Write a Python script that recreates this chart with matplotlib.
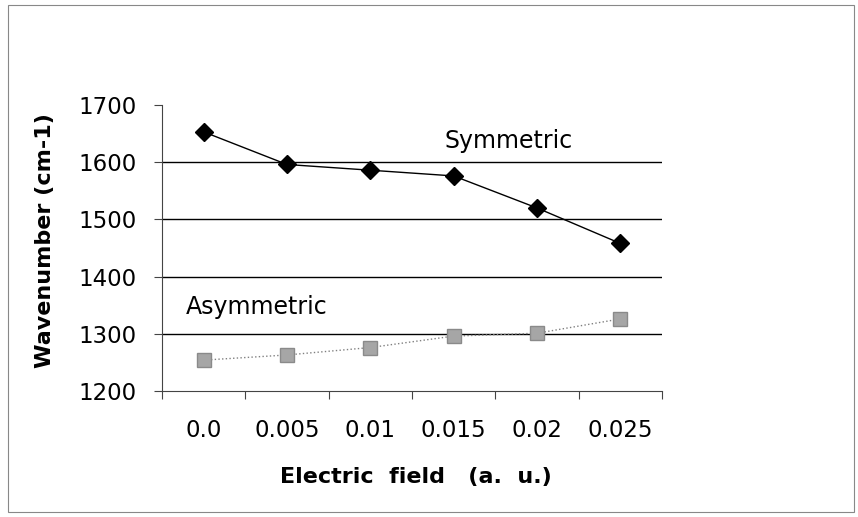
import matplotlib
matplotlib.use("Agg")
import matplotlib.pyplot as plt
from matplotlib.patches import Rectangle
import numpy as np

plt.rcParams['font.family'] = ['DejaVu Sans']

categories = ["0.0", "0.005", "0.01", "0.015", "0.02", "0.025"]
symmetric = [1653, 1596, 1586, 1576, 1520, 1458]
asymmetric = [1254, 1263, 1276, 1296, 1301, 1326]
yticks = [1200, 1300, 1400, 1500, 1600, 1700]

fig = plt.figure(figsize=(8.58, 5.17), dpi=100)
fig.patches.append(Rectangle((8/858, 1-512/517), 846/858, 507/517, transform=fig.transFigure,
                             fill=False, edgecolor='#888888', linewidth=0.8))
ax = fig.add_axes([162/858, 1-391/517, 500/858, 286/517])

x = np.arange(len(categories))
ax.plot(x, symmetric, color='black', linewidth=1.0, marker='D', markersize=9.5,
        markerfacecolor='black', markeredgecolor='black', zorder=3)
ax.plot(x, asymmetric, color='#808080', linewidth=1.0, linestyle=':', marker='s', markersize=10.5,
        markerfacecolor='#a6a6a6', markeredgecolor='#8a8a8a', zorder=3)

ax.set_xlim(-0.5, len(categories) - 0.5)
ax.set_ylim(1200, 1700)
ax.set_yticks(yticks)
ax.set_yticklabels([str(v) for v in yticks], fontsize=16.5)
ax.set_xticks(x)
ax.set_xticklabels(categories, fontsize=16.5)
ax.tick_params(axis='x', length=0, pad=20)
ax.set_xticks(np.arange(-0.5, len(categories)), minor=True)
ax.tick_params(axis='x', which='minor', length=6, direction='out', width=0.8, color='#444444')
ax.tick_params(axis='y', length=6, direction='out', width=0.8, pad=12, color='#444444')

for v in yticks[1:-1]:
    ax.axhline(v, color='black', linewidth=1.0, zorder=1)

for s in ['top', 'right']:
    ax.spines[s].set_visible(False)
ax.spines['left'].set_linewidth(0.8)
ax.spines['left'].set_color('#444444')
ax.spines['bottom'].set_linewidth(0.8)
ax.spines['bottom'].set_color('#444444')

ax.text(2.89, 1637, "Symmetric", fontsize=17, va='center', ha='left')
ax.text(-0.22, 1347, "Asymmetric", fontsize=17, va='center', ha='left')

ax.set_xlabel("Electric  field   (a.  u.)", fontsize=16, fontweight='bold')
ax.xaxis.set_label_coords((416 - 162) / 500, (391 - 477) / 286)
ax.xaxis.label.set_va('center')
ax.set_ylabel("Wavenumber (cm-1)", fontsize=16, fontweight='bold')
ax.yaxis.set_label_coords((45 - 162) / 500, (391 - 241) / 286)
ax.yaxis.label.set_va('center')

fig.savefig("out.png", dpi=100)
